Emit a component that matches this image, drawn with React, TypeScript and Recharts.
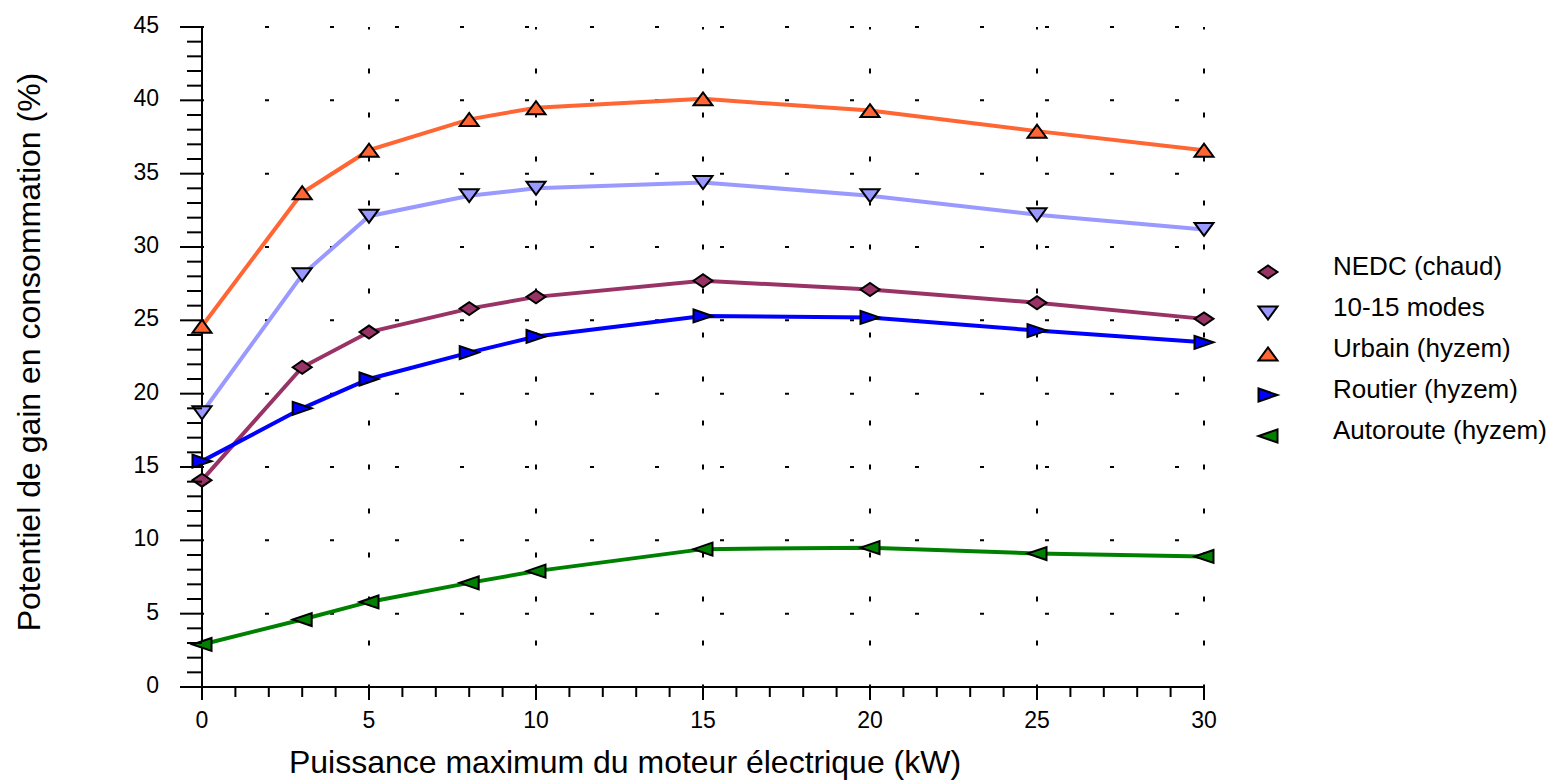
import { Legend, Line, LineChart, ReferenceLine, XAxis, YAxis } from "recharts";

const powerKw = [0, 3, 5, 8, 10, 15, 20, 25, 30];
const nedc = [14.1, 21.8, 24.2, 25.8, 26.6, 27.7, 27.1, 26.2, 25.1];
const modes1015 = [18.7, 28.1, 32.1, 33.5, 34.0, 34.4, 33.5, 32.2, 31.2];
const urbain = [24.6, 33.7, 36.6, 38.7, 39.5, 40.1, 39.3, 37.9, 36.6];
const routier = [15.4, 19.0, 21.0, 22.8, 23.9, 25.3, 25.2, 24.3, 23.5];
const autoroute = [2.9, 4.6, 5.8, 7.1, 7.9, 9.4, 9.5, 9.1, 8.9];

const xTicks = Array.from({ length: 31 }, (_, i) => i);
const yTicks = Array.from({ length: 46 }, (_, i) => i);
const xGrid = [5, 10, 15, 20, 25, 30];
const yGrid = [5, 10, 15, 20, 25, 30, 35, 40, 45];

const FONT = "'Liberation Sans', Arial, sans-serif";

type Marker = "diamond" | "down" | "up" | "right" | "left";

const series: { key: string; name: string; color: string; marker: Marker }[] = [
  { key: "nedc", name: "NEDC (chaud)", color: "#993366", marker: "diamond" },
  { key: "modes", name: "10-15 modes", color: "#9999ff", marker: "down" },
  { key: "urbain", name: "Urbain (hyzem)", color: "#ff6633", marker: "up" },
  { key: "routier", name: "Routier (hyzem)", color: "#0000ff", marker: "right" },
  { key: "autoroute", name: "Autoroute (hyzem)", color: "#008000", marker: "left" },
];

const rows = powerKw.map((kw, i) => ({
  kw,
  nedc: nedc[i],
  modes: modes1015[i],
  urbain: urbain[i],
  routier: routier[i],
  autoroute: autoroute[i],
}));

function markerPath(type: Marker, cx: number, cy: number) {
  const w = 9.5;
  const h = 6.5;
  switch (type) {
    case "diamond":
      return `M${cx - w},${cy} L${cx},${cy - h} L${cx + w},${cy} L${cx},${cy + h} Z`;
    case "down":
      return `M${cx - w},${cy - h} L${cx + w},${cy - h} L${cx},${cy + h} Z`;
    case "up":
      return `M${cx - w},${cy + h} L${cx + w},${cy + h} L${cx},${cy - h} Z`;
    case "right":
      return `M${cx - w},${cy - h} L${cx - w},${cy + h} L${cx + w},${cy} Z`;
    default:
      return `M${cx + w},${cy - h} L${cx + w},${cy + h} L${cx - w},${cy} Z`;
  }
}

function makeDot(type: Marker, color: string) {
  return (props: any) => {
    const { cx, cy, index } = props;
    if (cx == null || cy == null) return <g key={index} />;
    return (
      <path
        key={index}
        d={markerPath(type, cx, cy)}
        fill={color}
        stroke="#000"
        strokeWidth={2}
        strokeLinejoin="miter"
      />
    );
  };
}

function XTick(props: any) {
  const { x, y, payload } = props;
  const major = payload.value % 5 === 0;
  return (
    <g>
      <line x1={x} x2={x} y1={y} y2={y + (major ? 13 : 10)} stroke="#000" strokeWidth={2} />
      {major && (
        <text x={x} y={y + 41} textAnchor="middle" fontSize={23} fontFamily={FONT} fill="#000">
          {payload.value}
        </text>
      )}
    </g>
  );
}

function YTick(props: any) {
  const { x, y, payload } = props;
  const major = payload.value % 5 === 0;
  return (
    <g>
      <line x1={x - (major ? 22 : 15)} x2={x} y1={y} y2={y} stroke="#000" strokeWidth={2} />
      {major && (
        <text x={x - 43} y={y + 6} textAnchor="end" fontSize={23} fontFamily={FONT} fill="#000">
          {payload.value}
        </text>
      )}
    </g>
  );
}

function LegendBox(props: any) {
  const payload = props.payload ?? [];
  return (
    <div style={{ fontFamily: FONT, fontSize: 26 }}>
      {series.map((s) => {
        const entry = payload.find((p: any) => p.dataKey === s.key);
        const color = entry?.color ?? s.color;
        return (
          <div key={s.key} style={{ display: "flex", alignItems: "center", height: 41 }}>
            <svg width={78} height={41} style={{ display: "block", flex: "none" }}>
              <path d={markerPath(s.marker, 13, 26)} fill={color} stroke="#000" strokeWidth={2} />
            </svg>
            <span style={{ whiteSpace: "nowrap", lineHeight: "41px" }}>{s.name}</span>
          </div>
        );
      })}
    </div>
  );
}

export default function App() {
  return (
    <div style={{ position: "absolute", left: 0, top: 0, background: "#fff" }}>
      <LineChart
        width={1555}
        height={781}
        data={rows}
        margin={{ top: 27, right: 351, bottom: 0, left: 0 }}
      >
        <XAxis
          dataKey="kw"
          type="number"
          domain={[0, 30]}
          ticks={xTicks}
          interval={0}
          height={94}
          tickSize={0}
          tickMargin={0}
          tickLine={false}
          tick={<XTick />}
          axisLine={{ stroke: "#000", strokeWidth: 2 }}
          label={{
            content: () => (
              <text x={625} y={773} textAnchor="middle" fontSize={32} fontFamily={FONT} fill="#000">
                Puissance maximum du moteur électrique (kW)
              </text>
            ),
          }}
        />
        <YAxis
          type="number"
          domain={[0, 45]}
          ticks={yTicks}
          interval={0}
          width={202}
          tickSize={0}
          tickMargin={0}
          tickLine={false}
          tick={<YTick />}
          axisLine={{ stroke: "#000", strokeWidth: 2 }}
          label={{
            content: () => (
              <text
                x={40}
                y={352}
                transform="rotate(-90 40 352)"
                textAnchor="middle"
                fontSize={32}
                fontFamily={FONT}
                fill="#000"
              >
                Potentiel de gain en consommation (%)
              </text>
            ),
          }}
        />
        {yGrid.map((v) => (
          <ReferenceLine
            key={`h${v}`}
            y={v}
            stroke="#000"
            strokeWidth={2}
            strokeDasharray="4 61"
            strokeDashoffset={2}
          />
        ))}
        {xGrid.map((v) => (
          <ReferenceLine
            key={`v${v}`}
            x={v}
            stroke="#000"
            strokeWidth={2}
            strokeDasharray="5 39"
            strokeDashoffset={2.5}
          />
        ))}
        {series.map((s) => (
          <Line
            key={s.key}
            dataKey={s.key}
            name={s.name}
            stroke={s.color}
            strokeWidth={4}
            dot={makeDot(s.marker, s.color)}
            activeDot={false}
            isAnimationActive={false}
          />
        ))}
        <Legend
          layout="horizontal"
          verticalAlign="middle"
          align="center"
          content={<LegendBox />}
          wrapperStyle={{ left: 1255, top: 246, width: 300 }}
        />
      </LineChart>
    </div>
  );
}
